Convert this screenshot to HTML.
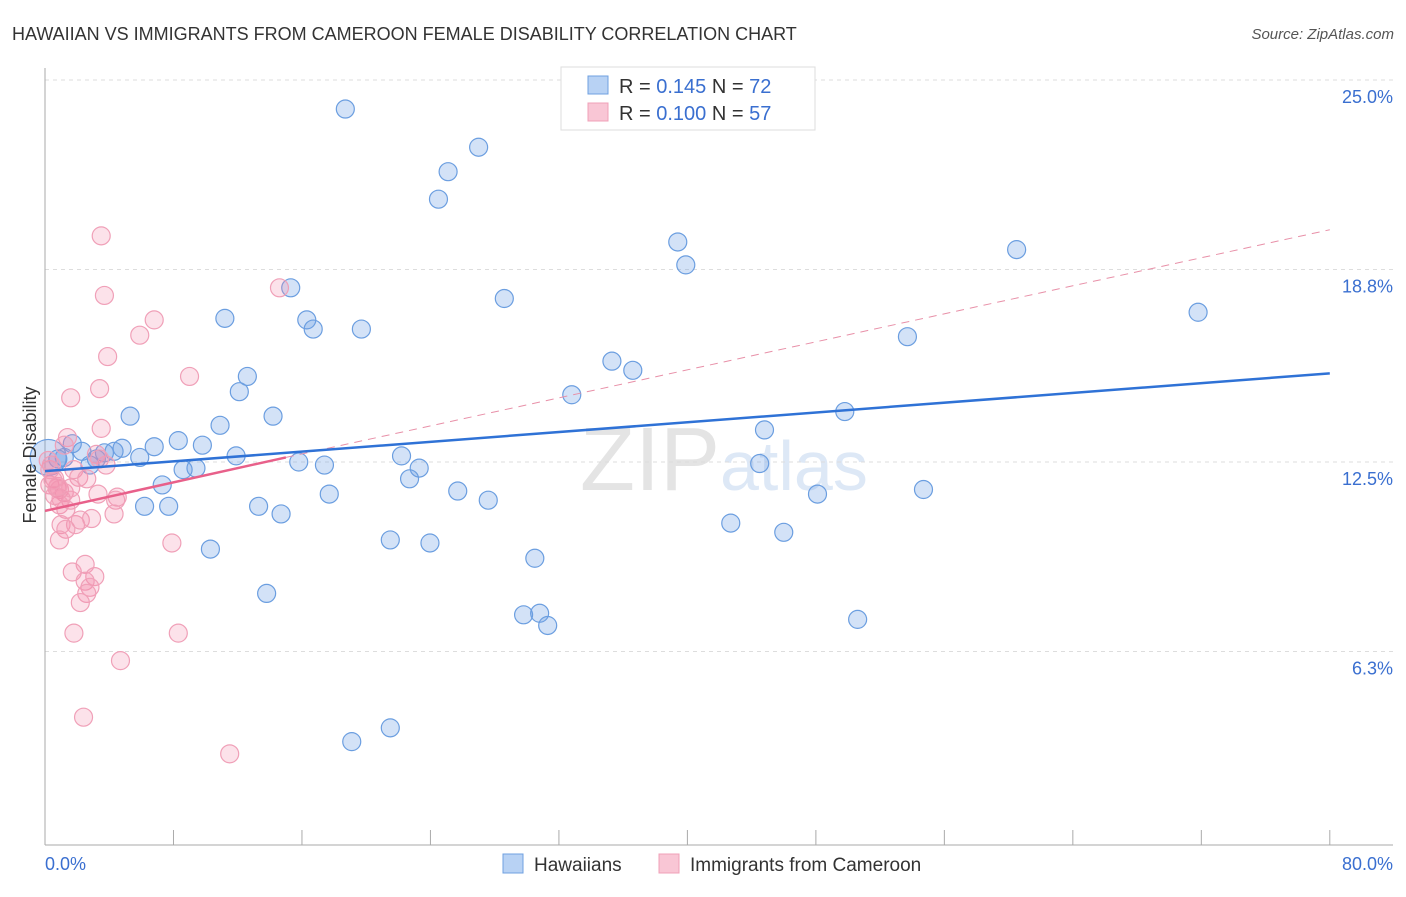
<!DOCTYPE html>
<html><head><meta charset="utf-8"><style>
body{margin:0;background:#fff;font-family:"Liberation Sans",sans-serif}
svg text{font-family:"Liberation Sans",sans-serif}
</style></head><body>
<svg id="c" width="1406" height="892">
<text x="12" y="40" font-size="18" fill="#333">HAWAIIAN VS IMMIGRANTS FROM CAMEROON FEMALE DISABILITY CORRELATION CHART</text>
<text x="1394" y="39" font-size="15" fill="#555" text-anchor="end" font-style="italic">Source: ZipAtlas.com</text>
<text x="720" y="490" font-size="90" fill="#e4e4e4" text-anchor="end" font-family="Liberation Serif">ZIP</text>
<text x="720" y="490" font-size="70" fill="#dde8f6">atlas</text>
<g id="grid"></g><g id="axes"></g><g id="pts"></g><g id="trend"></g>
<text x="36" y="455" font-size="18" fill="#333" text-anchor="middle" transform="rotate(-90 36 455)">Female Disability</text>
<text x="45" y="870" font-size="18" fill="#3a6fd0">0.0%</text>
<text x="1393" y="870" font-size="18" fill="#3a6fd0" text-anchor="end">80.0%</text>
<g>
<rect x="561" y="67" width="254" height="63" fill="#fff" stroke="#ddd"/>
<rect x="588" y="76" width="20" height="18" fill="#b8d2f4" stroke="#6fa0e0"/>
<rect x="588" y="103" width="20" height="18" fill="#f9c6d5" stroke="#f0a0b8"/>
<text x="619" y="93" font-size="20" fill="#333">R = <tspan fill="#3a6fd0">0.145</tspan>   N = <tspan fill="#3a6fd0">72</tspan></text>
<text x="619" y="120" font-size="20" fill="#333">R = <tspan fill="#3a6fd0">0.100</tspan>   N = <tspan fill="#3a6fd0">57</tspan></text>
</g>
<g>
<rect x="503" y="854" width="20" height="19" fill="#b8d2f4" stroke="#6fa0e0"/>
<text x="534" y="871" font-size="19" fill="#333">Hawaiians</text>
<rect x="659" y="854" width="20" height="19" fill="#f9c6d5" stroke="#f0a0b8"/>
<text x="690" y="871" font-size="19" fill="#333">Immigrants from Cameroon</text>
</g>
</svg>
<script>
const yTicks=[25.0,18.8,12.5,6.3];
const yTickLabels=["25.0%","18.8%","12.5%","6.3%"];
const blueX=[18.7,33.3,27.0,25.1,24.5,39.4,39.9,60.5,15.3,28.6,11.2,16.3,16.7,19.7,53.7,71.8,35.3,36.6,12.6,12.1,32.8,5.3,14.2,10.9,49.8,44.8,8.3,9.8,6.8,4.8,1.7,2.3,3.7,4.3,3.2,1.2,0.8,2.8,5.9,11.9,15.8,17.4,22.2,23.3,22.7,8.6,9.4,44.5,7.3,17.7,25.7,27.6,6.2,7.7,13.3,14.7,48.1,54.7,42.7,46.0,21.5,23.97,10.3,30.5,13.8,29.8,30.8,31.3,50.6,19.1,21.5,0.2];
const blueY=[24.05,24.35,22.8,22.0,21.1,19.7,18.95,19.45,18.2,17.85,17.2,17.15,16.85,16.85,16.6,17.4,15.8,15.5,15.3,14.8,14.7,14.0,14.0,13.7,14.15,13.55,13.2,13.05,13.0,12.95,13.1,12.85,12.8,12.85,12.6,12.65,12.6,12.4,12.65,12.7,12.5,12.4,12.7,12.3,11.95,12.25,12.3,12.45,11.75,11.45,11.55,11.25,11.05,11.05,11.05,10.8,11.45,11.6,10.5,10.2,9.95,9.85,9.65,9.35,8.2,7.5,7.55,7.15,7.35,3.35,3.8,12.65];
const pinkX=[3.5,3.7,14.6,6.8,5.9,3.9,9.0,3.4,1.6,3.5,1.4,1.2,3.2,3.8,1.8,2.1,2.6,0.6,0.3,0.75,0.9,1.2,1.6,3.3,4.5,4.4,0.9,1.3,4.3,1.0,1.9,1.3,0.9,7.9,2.5,1.7,3.1,2.5,2.8,2.6,2.2,1.8,8.3,4.7,2.4,11.5,0.3,0.4,0.2,0.6,1.0,2.2,2.9,3.4,1.6,0.8,0.5];
const pinkY=[19.9,17.95,18.2,17.15,16.65,15.95,15.3,14.9,14.6,13.6,13.3,13.05,12.75,12.4,12.25,12.0,11.95,11.95,11.75,11.65,11.6,11.5,11.25,11.45,11.35,11.25,11.1,10.95,10.8,10.45,10.45,10.3,9.95,9.85,9.15,8.9,8.75,8.6,8.4,8.2,7.9,6.9,6.9,6.0,4.15,2.95,12.25,12.4,12.55,11.4,11.3,10.6,10.65,12.6,11.65,11.7,11.9];
const blueTrend=[0,12.2,80,15.4];
const pinkTrend=[0,10.9,15,12.65];
const pinkTrendExt=[80,20.1];
const X=v=>45+v*16.06, Y=v=>80+(25-v)*30.56;
const NS="http://www.w3.org/2000/svg";
function mk(p,t,a){const e=document.createElementNS(NS,t);for(const k in a)e.setAttribute(k,a[k]);p.appendChild(e);return e;}
const grid=document.getElementById('grid'),axes=document.getElementById('axes'),pts=document.getElementById('pts'),tr=document.getElementById('trend');
yTicks.forEach((v,i)=>{
 const l=mk(grid,'line',{x1:45,x2:1393,y1:Y(v),y2:Y(v),stroke:'#ddd','stroke-dasharray':'4,4'});
 
 
 const t=mk(grid,'text',{x:1393,y:Y(v)+23,'font-size':18,fill:'#3a6fd0','text-anchor':'end'});t.textContent=yTickLabels[i];
 
 
});
const ax=mk(axes,'line',{x1:45,x2:45,y1:68,y2:845,stroke:'#aaa'});


const bx=mk(axes,'line',{x1:45,x2:1393,y1:845,y2:845,stroke:'#aaa'});


for(let i=0;i<=10;i++){const t=mk(axes,'line',{x1:X(i*8),x2:X(i*8),y1:830,y2:845,stroke:'#aaa'});
 
 }
blueX.forEach((x,i)=>{const c=mk(pts,'circle',{cx:X(x),cy:Y(blueY[i]),r:i==blueX.length-1?18:9,fill:'rgba(110,160,230,0.3)',stroke:'#6b9ee0','stroke-width':1.2});
 
 });
pinkX.forEach((x,i)=>{const c=mk(pts,'circle',{cx:X(x),cy:Y(pinkY[i]),r:9,fill:'rgba(245,140,170,0.25)',stroke:'#f0a0b8','stroke-width':1.2});
 
 });
const pd=mk(tr,'line',{x1:X(pinkTrend[2]),y1:Y(pinkTrend[3]),x2:X(pinkTrendExt[0]),y2:Y(pinkTrendExt[1]),stroke:'#e890a8','stroke-dasharray':'8,6','stroke-width':1});


const bl=mk(tr,'line',{x1:X(blueTrend[0]),y1:Y(blueTrend[1]),x2:X(blueTrend[2]),y2:Y(blueTrend[3]),stroke:'#2f72d6','stroke-width':2.5});


const pl=mk(tr,'line',{x1:X(pinkTrend[0]),y1:Y(pinkTrend[1]),x2:X(pinkTrend[2]),y2:Y(pinkTrend[3]),stroke:'#e8608a','stroke-width':2.5});


</script>
</body></html>
